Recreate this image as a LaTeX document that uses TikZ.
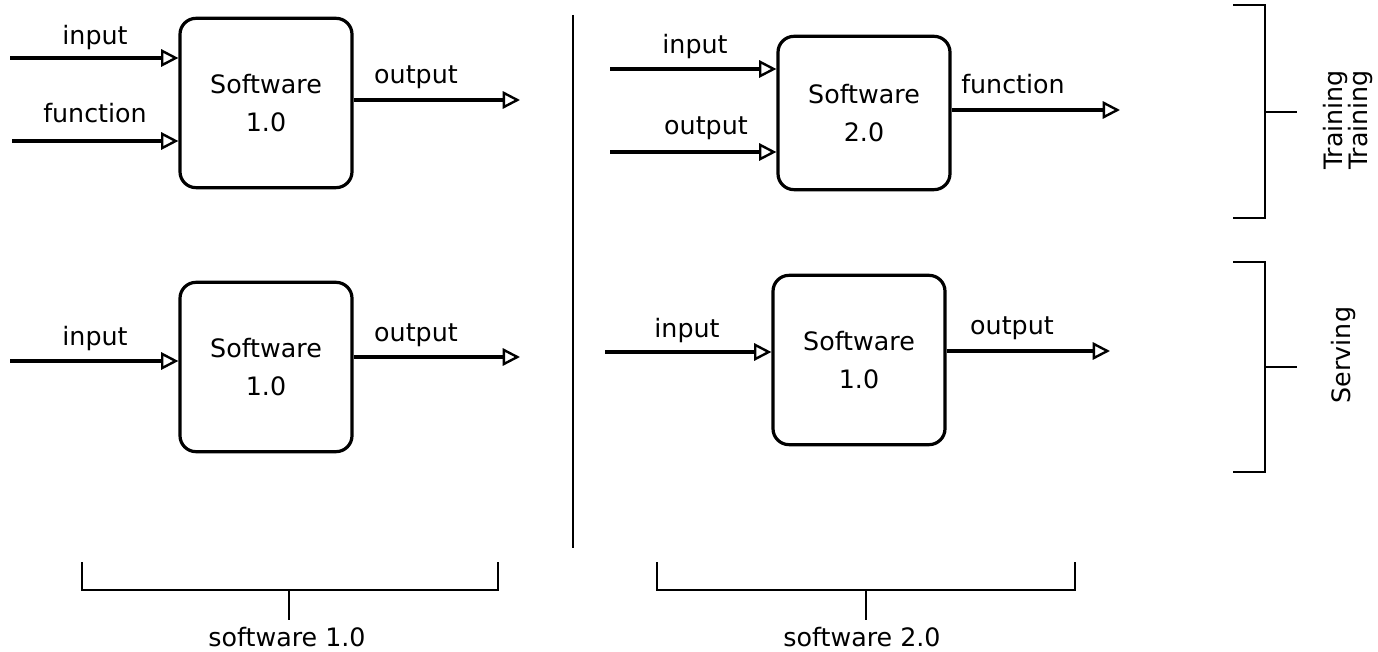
\documentclass[tikz,border=0pt]{standalone}
\usepackage{fontspec}
\setmainfont{DejaVu Sans}
\usetikzlibrary{arrows.meta}
\tikzset{
  sbox/.style={draw, line width=2.4pt, rounded corners=12pt, minimum width=129pt, minimum height=127pt, align=center, font=\fontsize{19}{28}\selectfont},
  conn/.style={line width=2.4pt, -{Triangle[open, length=13pt, width=13pt, line width=1.8pt]}},
  lbl/.style={font=\fontsize{19}{22}\selectfont, inner sep=0pt},
  brk/.style={line width=2pt},
}
\begin{document}
\begin{tikzpicture}[x=0.75pt, y=-0.75pt]
\useasboundingbox (0,0) rectangle (1378,652);
% top-left
\node[sbox] (b1) at (266,103) {Software\\1.0};
\coordinate (i1) at (10,58);
\coordinate (f1) at (12,141);
\coordinate (o1) at (520,100);
\draw[conn] (i1) -- (i1 -| b1.west);
\draw[conn] (f1) -- (f1 -| b1.west);
\draw[conn] (o1 -| b1.east) -- (o1);
\node[lbl] (li1) at (95,38) {input};
\node[lbl] (lf1) at (95,113) {function};
\node[lbl] (lo1) at (416,77) {output};
% bottom-left
\node[sbox] (b2) at (266,367) {Software\\1.0};
\coordinate (i2) at (10,361);
\coordinate (o2) at (520,357);
\draw[conn] (i2) -- (i2 -| b2.west);
\draw[conn] (o2 -| b2.east) -- (o2);
\node[lbl] (li2) at (95,339) {input};
\node[lbl] (lo2) at (416,335) {output};
% divider
\coordinate (d1) at (573,15);
\coordinate (d2) at (573,548);
\draw[line width=2.2pt] (d1) -- (d2);
% top-right
\node[sbox, minimum height=115pt] (b3) at (864,113) {Software\\2.0};
\coordinate (i3) at (610,69);
\coordinate (f3) at (610,152);
\coordinate (o3) at (1120,110);
\draw[conn] (i3) -- (i3 -| b3.west);
\draw[conn] (f3) -- (f3 -| b3.west);
\draw[conn] (o3 -| b3.east) -- (o3);
\node[lbl] (li3) at (695,47) {input};
\node[lbl] (lo3) at (706,128) {output};
\node[lbl] (lf3) at (1013,84) {function};
% bottom-right
\node[sbox] (b4) at (859,360) {Software\\1.0};
\coordinate (i4) at (605,352);
\coordinate (o4) at (1110,351);
\draw[conn] (i4) -- (i4 -| b4.west);
\draw[conn] (o4 -| b4.east) -- (o4);
\node[lbl] (li4) at (687,331) {input};
\node[lbl] (lo4) at (1012,328) {output};
% bottom brackets
\draw[brk] (82,562) -- (82,590) -- (498,590) -- (498,562);
\draw[brk] (289,590) -- (289,620);
\node[lbl] (s1) at (287,637) {software 1.0};
\draw[brk] (657,562) -- (657,590) -- (1075,590) -- (1075,562);
\draw[brk] (866,590) -- (866,620);
\node[lbl] (s2) at (862,637) {software 2.0};
% right brackets
\draw[brk] (1233,5) -- (1265,5) -- (1265,218) -- (1233,218);
\draw[brk] (1265,112) -- (1297,112);
\node[lbl, rotate=90, align=center, font=\fontsize{19}{15}\selectfont] (tr) at (1348,120) {Training\\Training};
\draw[brk] (1233,262) -- (1265,262) -- (1265,472) -- (1233,472);
\draw[brk] (1265,367) -- (1297,367);
\node[lbl, rotate=90] (sv) at (1343,355) {Serving};
\end{tikzpicture}
\end{document}
